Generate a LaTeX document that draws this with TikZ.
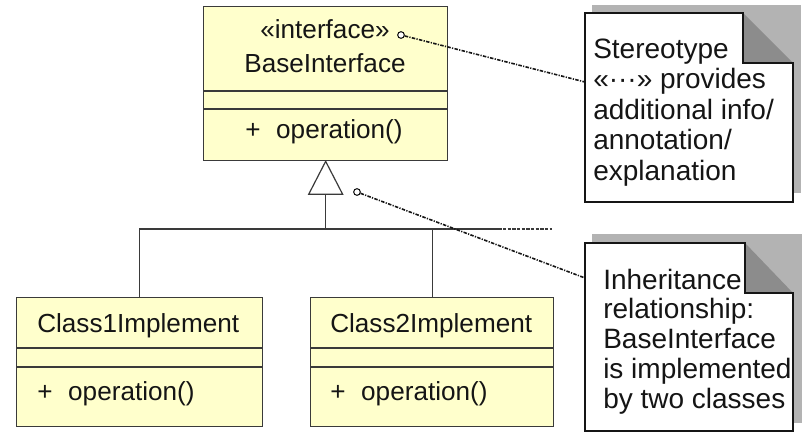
\documentclass[tikz,border=0pt]{standalone}
\usepackage{fontspec}
\setmainfont{Liberation Sans}
\usetikzlibrary{calc}

\definecolor{classfill}{HTML}{FFFFCC}
\definecolor{edge}{HTML}{3A3A3A}
\definecolor{inkc}{HTML}{151515}
\definecolor{shadowgray}{HTML}{B3B3B3}
\definecolor{foldgray}{HTML}{8C8C8C}

\tikzset{
  classbox/.style={draw=edge, line width=1pt, fill=classfill, rectangle,
    inner sep=0pt, anchor=north west},
  sepline/.style={draw=edge, line width=0.9pt},
  assoc/.style={draw=edge, line width=0.9pt},
  classtext/.style={inner sep=0pt, text=inkc, font=\fontsize{19.6}{22}\selectfont},
  notetext/.style={inner sep=0pt, anchor=base west, text=inkc,
    font=\fontsize{21}{23}\selectfont},
  noteline/.style={draw=inkc, line width=0.9pt},
  anchorlink/.style={draw=inkc, line width=1.2pt,
    dash pattern=on 2.6pt off 1pt on 0.9pt off 1pt},
  pin/.style={draw=inkc, line width=0.8pt, fill=white, circle,
    inner sep=0pt, minimum size=5pt},
}

\begin{document}
\begin{tikzpicture}[x=0.75pt, y=-0.75pt]
\useasboundingbox (0,0) rectangle (807,432);

% ---- interface box ----
\node[classbox, minimum width=183pt, minimum height=115.5pt] (base) at (203,6) {};
\draw[sepline] (203,91) -- (447,91);
\draw[sepline] (203,109) -- (447,109);
\node[classtext, anchor=base] (basestereo) at (325,38) {«interface»};
\node[classtext, anchor=base] (basename) at (325,72) {BaseInterface};
\node[classtext, anchor=base west] (baseop) at (245,138) {+\hspace{0.6em}operation()};

% ---- implementing classes ----
\node[classbox, minimum width=184.5pt, minimum height=96.75pt] (class1) at (16,297) {};
\draw[sepline] (16,348) -- (262,348);
\draw[sepline] (16,367) -- (262,367);
\node[classtext, anchor=base west] (c1name) at (37,332) {Class1Implement};
\node[classtext, anchor=base west] (c1op) at (37,400) {+\hspace{0.6em}operation()};

\node[classbox, minimum width=182.25pt, minimum height=96.75pt] (class2) at (310,297) {};
\draw[sepline] (310,348) -- (553,348);
\draw[sepline] (310,367) -- (553,367);
\node[classtext, anchor=base west] (c2name) at (330,332) {Class2Implement};
\node[classtext, anchor=base west] (c2op) at (330,400) {+\hspace{0.6em}operation()};

% ---- generalization: hollow triangle and tree ----
\coordinate (apex) at (base.south);
\draw[assoc, fill=white] (apex) -- ++(-17,33) -- ++(34,0) -- cycle;
\coordinate (tribase) at ($(apex)+(0,33)$);
\coordinate (joint) at (tribase |- 0,229);
\draw[assoc] (tribase) -- (joint);
\draw[assoc] (class1.north) |- (joint) -| (class2.north);
\draw[assoc] (joint -| class2.north) -- ++(46,0) coordinate (tailA);
\draw[draw=edge, line width=1.6pt] (tailA) -- ++(20,0) coordinate (tailB);
\draw[draw=edge, line width=1.4pt, dash pattern=on 2.6pt off 0.9pt] (tailB) -- ++(54,0);

% ---- note: stereotype ----
\fill[shadowgray] (592,5) rectangle (801,193);
\fill[white] (585,13) -- (743,13) -- (743,63) -- (793,63) -- (793,202) -- (585,202) -- cycle;
\fill[foldgray] (743,13) -- (793,63) -- (743,63) -- cycle;
\draw[noteline] (585,13) -- (743,13) -- (743,63) -- (793,63) -- (793,202) -- (585,202) -- cycle;
\foreach \t [count=\i] in {Stereotype, «···» provides, additional info/, annotation/, explanation}
  \node[notetext] (noteA-\i) at ({593},{58+30.5*(\i-1)}) {\t};
\coordinate (noteAattach) at (585,82);

% ---- note: inheritance ----
\fill[shadowgray] (592,234) rectangle (802,423);
\fill[white] (585,243) -- (745,243) -- (745,293) -- (793,293) -- (793,431) -- (585,431) -- cycle;
\fill[foldgray] (745,243) -- (793,293) -- (745,293) -- cycle;
\draw[noteline] (585,243) -- (745,243) -- (745,293) -- (793,293) -- (793,431) -- (585,431) -- cycle;
\foreach \t [count=\i] in {Inheritance, relationship:, BaseInterface, is implemented, by two classes}
  \node[notetext] (noteB-\i) at ({603},{289+29.8*(\i-1)}) {\t};
\coordinate (noteBattach) at (585,278);

% ---- note anchors ----
\node[pin] (pinA) at (401,35) {};
\node[pin] (pinB) at (357,192) {};
\draw[anchorlink] (pinA) -- (noteAattach);
\draw[anchorlink] (pinB) -- (noteBattach);
\end{tikzpicture}
\end{document}
